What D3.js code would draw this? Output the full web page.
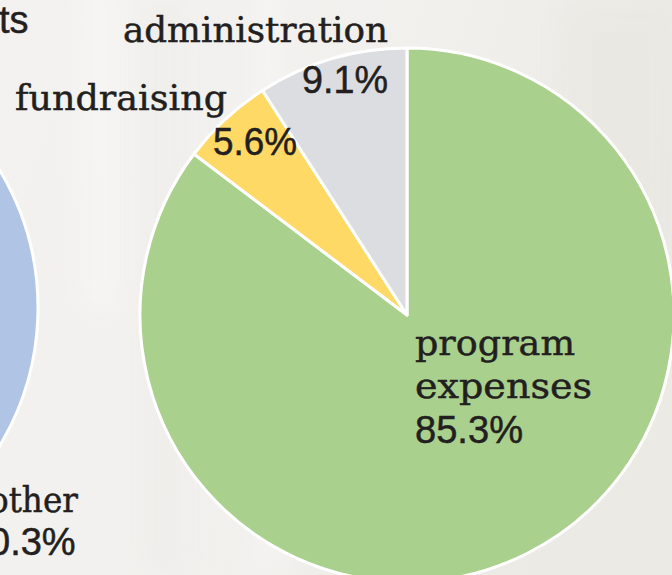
<!DOCTYPE html>
<html>
<head>
<meta charset="utf-8">
<script src="https://cdn.jsdelivr.net/npm/d3@7"></script>
<style>
  html, body { margin: 0; padding: 0; background: #f2f1ef; }
  svg { display: block; }
</style>
</head>
<body>
<svg id="chart"></svg>
<script>
// ====== data ======
const expenseCategories = ["program expenses", "fundraising", "administration"];
const expenseValues = [85.3, 5.6, 9.1];
const expenseColors = ["#aad08e", "#ffd966", "#dcdde0"];

// left pie (mostly cut off by the frame)
const revenueCategories = ["main", "other"];
const revenueValues = [99.7, 0.3];
const revenueColors = ["#b0c5e6", "#c9c9c9"];

// ====== page ======
const width = 672;
const height = 575;
const radius = 267;

const svg = d3.select("#chart")
    .attr("width", width)
    .attr("height", height);

// faded photo background, very rough
const defs = svg.append("defs");
defs.append("filter").attr("id", "blur")
    .append("feGaussianBlur").attr("stdDeviation", 14);

const bgGrad = defs.append("linearGradient").attr("id", "bg")
    .attr("x1", 0).attr("y1", 0).attr("x2", 1).attr("y2", 0.3);
bgGrad.append("stop").attr("offset", "0%").attr("stop-color", "#f3f2f0");
bgGrad.append("stop").attr("offset", "60%").attr("stop-color", "#f1f0ed");
bgGrad.append("stop").attr("offset", "100%").attr("stop-color", "#ebeae5");

svg.append("rect").attr("width", width).attr("height", height).attr("fill", "url(#bg)");

const trunks = svg.append("g").attr("filter", "url(#blur)").attr("opacity", 0.6);
trunks.append("rect").attr("x", 88).attr("y", -20).attr("width", 26).attr("height", 330).attr("fill", "#fbfaf8");
trunks.append("rect").attr("x", 258).attr("y", -20).attr("width", 22).attr("height", 600).attr("fill", "#f9f8f6");
trunks.append("rect").attr("x", 150).attr("y", 0).attr("width", 30).attr("height", 575).attr("fill", "#ecebe8");
trunks.append("rect").attr("x", 560).attr("y", 0).attr("width", 120).attr("height", 300).attr("fill", "#e8e7e1");

// ====== pies ======
const pie = d3.pie().sort(null).value(d => d.value);
const arc = d3.arc().innerRadius(0).outerRadius(radius);

function drawPie(cx, cy, cats, vals, cols) {
    const data = cats.map((c, i) => ({ name: c, value: vals[i], color: cols[i] }));
    const g = svg.append("g").attr("transform", `translate(${cx},${cy})`);
    g.selectAll("path")
        .data(pie(data))
        .enter()
        .append("path")
        .attr("d", arc)
        .attr("fill", d => d.data.color)
        .attr("stroke", "#fff")
        .attr("stroke-width", 3)
        .attr("stroke-linejoin", "round");
    return g;
}

drawPie(-229, 308, revenueCategories, revenueValues, revenueColors);
drawPie(407, 315, expenseCategories, expenseValues, expenseColors);

// ====== labels ======
const serif = "'DejaVu Serif', serif";
const sans = "'Liberation Sans', Arial, sans-serif";
const ink = "#231f20";

function label(txt, x, y, font, size, len) {
    const t = svg.append("text")
        .attr("x", x).attr("y", y)
        .attr("font-family", font)
        .attr("font-size", size)
        .attr("fill", ink)
        .attr("stroke", ink)
        .attr("stroke-width", 0.5)
        .text(txt);
    if (len) t.attr("textLength", len).attr("lengthAdjust", "spacingAndGlyphs");
    return t;
}

const pct = v => v.toFixed(1) + "%";

// heading fragment at top-left
label("ts", -1, 33, sans, 38);

// left pie
label(revenueCategories[1], -11, 512, serif, 36, 89);
label(pct(revenueValues[1]), -11, 555, sans, 38);

// right pie
label(expenseCategories[2], 123, 42, serif, 36, 265);
label(pct(expenseValues[2]), 302, 93, sans, 38, 86);
label(expenseCategories[1], 15, 110, serif, 36, 212);
label(pct(expenseValues[1]), 213, 155, sans, 38, 84);

const progWords = expenseCategories[0].split(" ");
label(progWords[0], 415, 355, serif, 36, 160);
label(progWords[1], 415, 398, serif, 36, 177);
label(pct(expenseValues[0]), 415, 443, sans, 38, 108);
</script>
</body>
</html>
